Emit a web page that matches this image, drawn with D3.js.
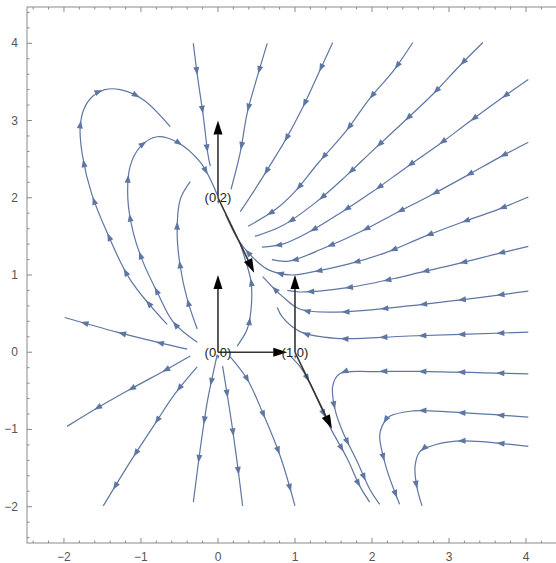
<!DOCTYPE html>
<html>
<head>
<meta charset="utf-8">
<script src="https://cdn.jsdelivr.net/npm/d3@7/dist/d3.min.js"></script>
<style>
  body { margin: 0; background: #fff; }
  svg { display: block; }
</style>
</head>
<body>
<svg id="chart" width="556" height="563"></svg>
<script>
// streamlines, in data coordinates, listed in flow direction
var topLines = [
    [[-0.32,4.0],[-0.27,3.6],[-0.19,3.05],[-0.13,2.56],[-0.1,2.41]],
    [[0.64,4.0],[0.52,3.6],[0.38,3.1],[0.29,2.59],[0.17,2.11]]
];

var rightLines = [
    [[1.49,4.01],[1.31,3.62],[1.10,3.17],[0.86,2.72],[0.75,2.54],[0.52,2.17],[0.29,1.82]],
    [[2.53,4.01],[2.29,3.66],[1.96,3.27],[1.66,2.86],[1.31,2.46],[0.99,2.07],[0.75,1.85],[0.39,1.63]],
    [[3.44,4.01],[3.13,3.70],[2.79,3.34],[2.42,2.99],[2.03,2.63],[1.66,2.28],[1.27,1.94],[0.84,1.64],[0.48,1.50]],
    [[4.03,3.53],[3.70,3.30],[3.26,2.98],[2.87,2.69],[2.44,2.39],[2.01,2.08],[1.60,1.81],[1.17,1.55],[0.84,1.40],[0.57,1.36]],
    [[4.03,2.72],[3.65,2.52],[3.22,2.28],[2.74,2.02],[2.29,1.79],[1.83,1.55],[1.38,1.35],[0.92,1.18],[0.70,1.20]],
    [[4.03,2.01],[3.64,1.85],[3.16,1.68],[2.66,1.49],[2.18,1.29],[1.69,1.14],[1.18,1.03],[0.96,1.00],[0.65,1.07],[0.44,1.24],[0.26,1.46],[0.10,1.78]],
    [[4.03,1.37],[3.61,1.27],[3.09,1.14],[2.61,1.03],[2.36,0.97],[1.71,0.84],[1.06,0.78],[0.90,0.80]],
    [[4.03,0.79],[2.48,0.60],[1.53,0.52],[1.06,0.56],[0.84,0.72],[0.58,0.98]],
    [[4.03,0.26],[2.48,0.21],[1.53,0.18],[1.06,0.27],[0.84,0.45],[0.77,0.58]],
    [[4.03,-0.28],[2.71,-0.25],[2.01,-0.25],[1.58,-0.28],[1.49,-0.44],[1.52,-0.74],[1.62,-1.03],[1.81,-1.42],[1.97,-1.77],[2.10,-1.97]],
    [[4.03,-0.84],[2.75,-0.76],[2.53,-0.76],[2.23,-0.83],[2.13,-0.96],[2.10,-1.09],[2.19,-1.51],[2.36,-1.97]],
    [[4.03,-1.22],[3.09,-1.15],[2.75,-1.22],[2.62,-1.29],[2.56,-1.47],[2.58,-1.73],[2.65,-1.99]]
];

var saddleLines = [
    [[0.94,-0.05],[1.06,-0.18],[1.19,-0.39],[1.45,-0.96],[1.68,-1.38],[1.84,-1.73],[1.97,-1.94]]
];

var sourceLines = [
    [[-0.40,0.04],[-0.79,0.13],[-1.31,0.26],[-1.99,0.45]],
    [[-0.36,-0.05],[-0.66,-0.22],[-1.14,-0.48],[-1.53,-0.70],[-1.96,-0.96]],
    [[-0.27,-0.19],[-0.56,-0.54],[-0.82,-0.93],[-1.14,-1.42],[-1.49,-1.99]],
    [[-0.01,-0.03],[-0.08,-0.35],[-0.14,-0.65],[-0.23,-1.25],[-0.32,-1.94]],
    [[0.06,-0.18],[0.13,-0.61],[0.19,-1.00],[0.26,-1.51],[0.32,-1.99]],
    [[0.16,-0.06],[0.38,-0.35],[0.58,-0.78],[0.81,-1.35],[1.0,-1.99]],
    [[-0.66,0.36],[-1.14,0.94],[-1.44,1.55],[-1.64,2.05],[-1.76,2.55],[-1.79,2.9],[-1.74,3.15],[-1.62,3.32],[-1.47,3.40],[-1.27,3.40],[-0.97,3.27],[-0.62,2.92]],
    [[-0.27,0.13],[-0.58,0.39],[-0.79,0.78],[-0.97,1.16],[-1.10,1.55],[-1.17,1.98],[-1.14,2.41],[-1.01,2.66],[-0.79,2.79],[-0.53,2.72],[-0.23,2.46],[-0.01,2.04]],
    [[-0.27,0.30],[-0.40,0.69],[-0.49,1.11],[-0.53,1.55],[-0.49,1.98],[-0.36,2.21]],
    [[0.25,0.08],[0.38,0.30],[0.43,0.56],[0.43,0.91],[0.36,1.18],[0.29,1.40]]
];

var pointLabels = ["(0,0)", "(0,2)", "(1,0)"];
var fixedPoints = [[0,0],[0,2],[1,0]];
var eigenArrows = [
    [[0,0],[0,1]], [[0,0],[0.9,0]],
    [[0,2],[0,3]], [[0,2],[0.47,1.03]],
    [[1,0],[1,1]], [[1,0],[1.48,-0.99]]
];

var xTicks = [-2,-1,0,1,2,3,4];
var yTicks = [-2,-1,0,1,2,3,4];

var svg = d3.select("#chart");

var x = d3.scaleLinear().domain([-2.48, 4.5]).range([27, 564.5]);
var y = d3.scaleLinear().domain([-2.47, 4.47]).range([543, 7]);

var streamColor = "#5d76a3";

// frame with inward ticks
var frame = svg.append("g");
frame.append("rect")
    .attr("x", x(-2.48)).attr("y", y(4.47))
    .attr("width", x(4.5) - x(-2.48)).attr("height", y(-2.47) - y(4.47))
    .attr("fill", "none").attr("stroke", "#8a8a8a").attr("stroke-width", 1);

var minorX = d3.range(-24, 45, 2).map(function(d) { return d / 10; });
var minorY = d3.range(-24, 45, 2).map(function(d) { return d / 10; });
var isMajor = function(d) { return Math.abs(d - Math.round(d)) < 1e-6; };

minorX.forEach(function(d) {
    var len = isMajor(d) ? 5 : 2.5;
    frame.append("line").attr("x1", x(d)).attr("x2", x(d))
        .attr("y1", y(-2.47)).attr("y2", y(-2.47) - len)
        .attr("stroke", "#8a8a8a");
    frame.append("line").attr("x1", x(d)).attr("x2", x(d))
        .attr("y1", y(4.47)).attr("y2", y(4.47) + len)
        .attr("stroke", "#8a8a8a");
});
minorY.forEach(function(d) {
    var len = isMajor(d) ? 5 : 2.5;
    frame.append("line").attr("y1", y(d)).attr("y2", y(d))
        .attr("x1", x(-2.48)).attr("x2", x(-2.48) + len)
        .attr("stroke", "#8a8a8a");
    frame.append("line").attr("y1", y(d)).attr("y2", y(d))
        .attr("x1", x(4.5)).attr("x2", x(4.5) - len)
        .attr("stroke", "#8a8a8a");
});

var fmt = function(d) { return d < 0 ? "\u2212" + Math.abs(d) : String(d); };

frame.selectAll("text.xt").data(xTicks).enter().append("text")
    .attr("class", "xt")
    .attr("x", function(d) { return x(d); })
    .attr("y", 561)
    .attr("text-anchor", "middle")
    .attr("font-family", "Liberation Sans, Arial, sans-serif")
    .attr("font-size", 12)
    .attr("fill", "#555")
    .text(fmt);

frame.selectAll("text.yt").data(yTicks).enter().append("text")
    .attr("class", "yt")
    .attr("x", 18)
    .attr("y", function(d) { return y(d) + 4; })
    .attr("text-anchor", "end")
    .attr("font-family", "Liberation Sans, Arial, sans-serif")
    .attr("font-size", 12)
    .attr("fill", "#555")
    .text(fmt);

// streamlines
var line = d3.line()
    .x(function(d) { return x(d[0]); })
    .y(function(d) { return y(d[1]); })
    .curve(d3.curveCatmullRom.alpha(0.5));

var allLines = topLines.concat(rightLines, saddleLines, sourceLines);
var streams = svg.append("g");

allLines.forEach(function(pts) {
    var path = streams.append("path")
        .attr("d", line(pts))
        .attr("fill", "none")
        .attr("stroke", streamColor)
        .attr("stroke-width", 1.2);

    var node = path.node();
    var total = node.getTotalLength();
    for (var s = 32; s < total - 6; s += 39) {
        var p = node.getPointAtLength(s);
        var q = node.getPointAtLength(s - 1.5);
        var a = Math.atan2(p.y - q.y, p.x - q.x);
        var len = 8, hw = 3;
        var bx = p.x - len * Math.cos(a), by = p.y - len * Math.sin(a);
        var pts2 = [
            [p.x, p.y],
            [bx + hw * Math.sin(a), by - hw * Math.cos(a)],
            [bx - hw * Math.sin(a), by + hw * Math.cos(a)]
        ];
        streams.append("path")
            .attr("d", "M" + pts2.join("L") + "Z")
            .attr("fill", streamColor);
    }
});

// eigenvector arrows at the fixed points
var eig = svg.append("g");
eigenArrows.forEach(function(e) {
    var x0 = x(e[0][0]), y0 = y(e[0][1]), x1 = x(e[1][0]), y1 = y(e[1][1]);
    var a = Math.atan2(y1 - y0, x1 - x0);
    var len = 14, hw = 4.5;
    var bx = x1 - len * Math.cos(a), by = y1 - len * Math.sin(a);
    eig.append("line")
        .attr("x1", x0).attr("y1", y0).attr("x2", bx).attr("y2", by)
        .attr("stroke", "#333").attr("stroke-width", 1.6);
    var head = [
        [x1, y1],
        [bx + hw * Math.sin(a), by - hw * Math.cos(a)],
        [bx - hw * Math.sin(a), by + hw * Math.cos(a)]
    ];
    eig.append("path").attr("d", "M" + head.join("L") + "Z").attr("fill", "#000");
});

svg.selectAll("text.pt").data(fixedPoints).enter().append("text")
    .attr("class", "pt")
    .attr("x", function(d) { return x(d[0]); })
    .attr("y", function(d) { return y(d[1]) + 4.5; })
    .attr("text-anchor", "middle")
    .attr("font-family", "Liberation Sans, Arial, sans-serif")
    .attr("font-size", 13)
    .attr("fill", "#222")
    .text(function(d, i) { return pointLabels[i]; });
</script>
</body>
</html>
